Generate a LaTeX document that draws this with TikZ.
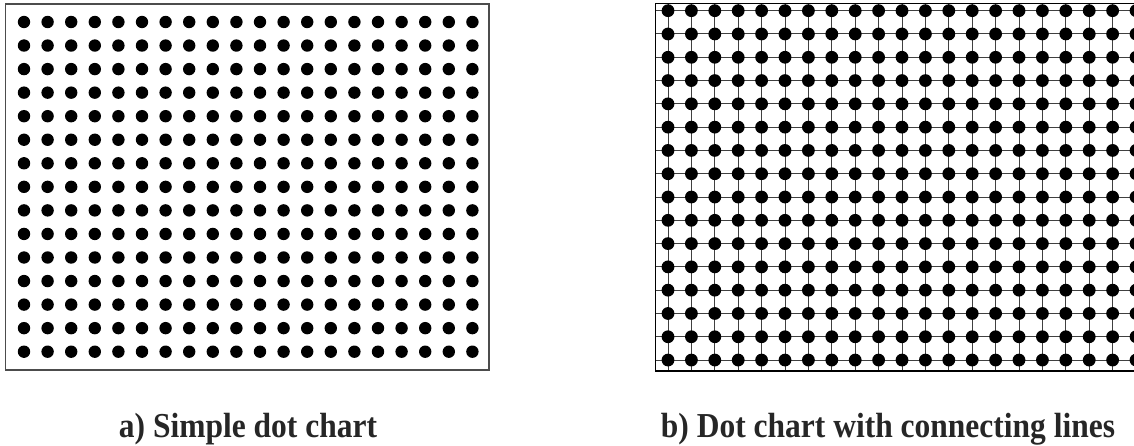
\documentclass[tikz,border=0pt]{standalone}
\usepackage{fontspec}
\setmainfont{Liberation Serif}
\begin{document}
\begin{tikzpicture}[x=1pt,y=-1pt,
  frameA/.style={draw=black!70,line width=1.1pt},
  frameB/.style={draw=black,line width=1.8pt},
  gridline/.style={draw=black!75,line width=1pt},
  dotfill/.style={fill=black},
  caption/.style={anchor=base,font=\bfseries\fontsize{35}{40}\selectfont,text=black!85,inner sep=0pt}]
\useasboundingbox (0,0) rectangle (1134,446);
\begin{scope}
\clip (0,0) rectangle (1134,446);
% panel a
\path[frameA] (5.5,4) rectangle (489,370);
\foreach \i in {0,...,19}{
  \foreach \j in {0,...,14}{
    \path[dotfill] ({24+23.6*\i},{22+23.55*\j}) circle[radius=6.2pt];
  }
}
% panel b
\foreach \i in {0,...,20}{
  \path[gridline] ({668+23.4*\i},3.5) -- ({668+23.4*\i},371);
}
\foreach \j in {0,...,15}{
  \path[gridline] (655.5,{10.7+23.29*\j}) -- (1200,{10.7+23.29*\j});
}
\path[frameB] (655.5,3.5) rectangle (1300,371);
\foreach \i in {0,...,20}{
  \foreach \j in {0,...,15}{
    \path[dotfill] ({668+23.4*\i},{10.7+23.29*\j}) circle[radius=6.4pt];
  }
}
\end{scope}
\node[caption] (capa) at (248,437) {\scalebox{0.9}[1]{a) Simple dot chart}};
\node[caption] (capb) at (888,437) {\scalebox{0.9}[1]{b) Dot chart with connecting lines}};
\end{tikzpicture}
\end{document}
